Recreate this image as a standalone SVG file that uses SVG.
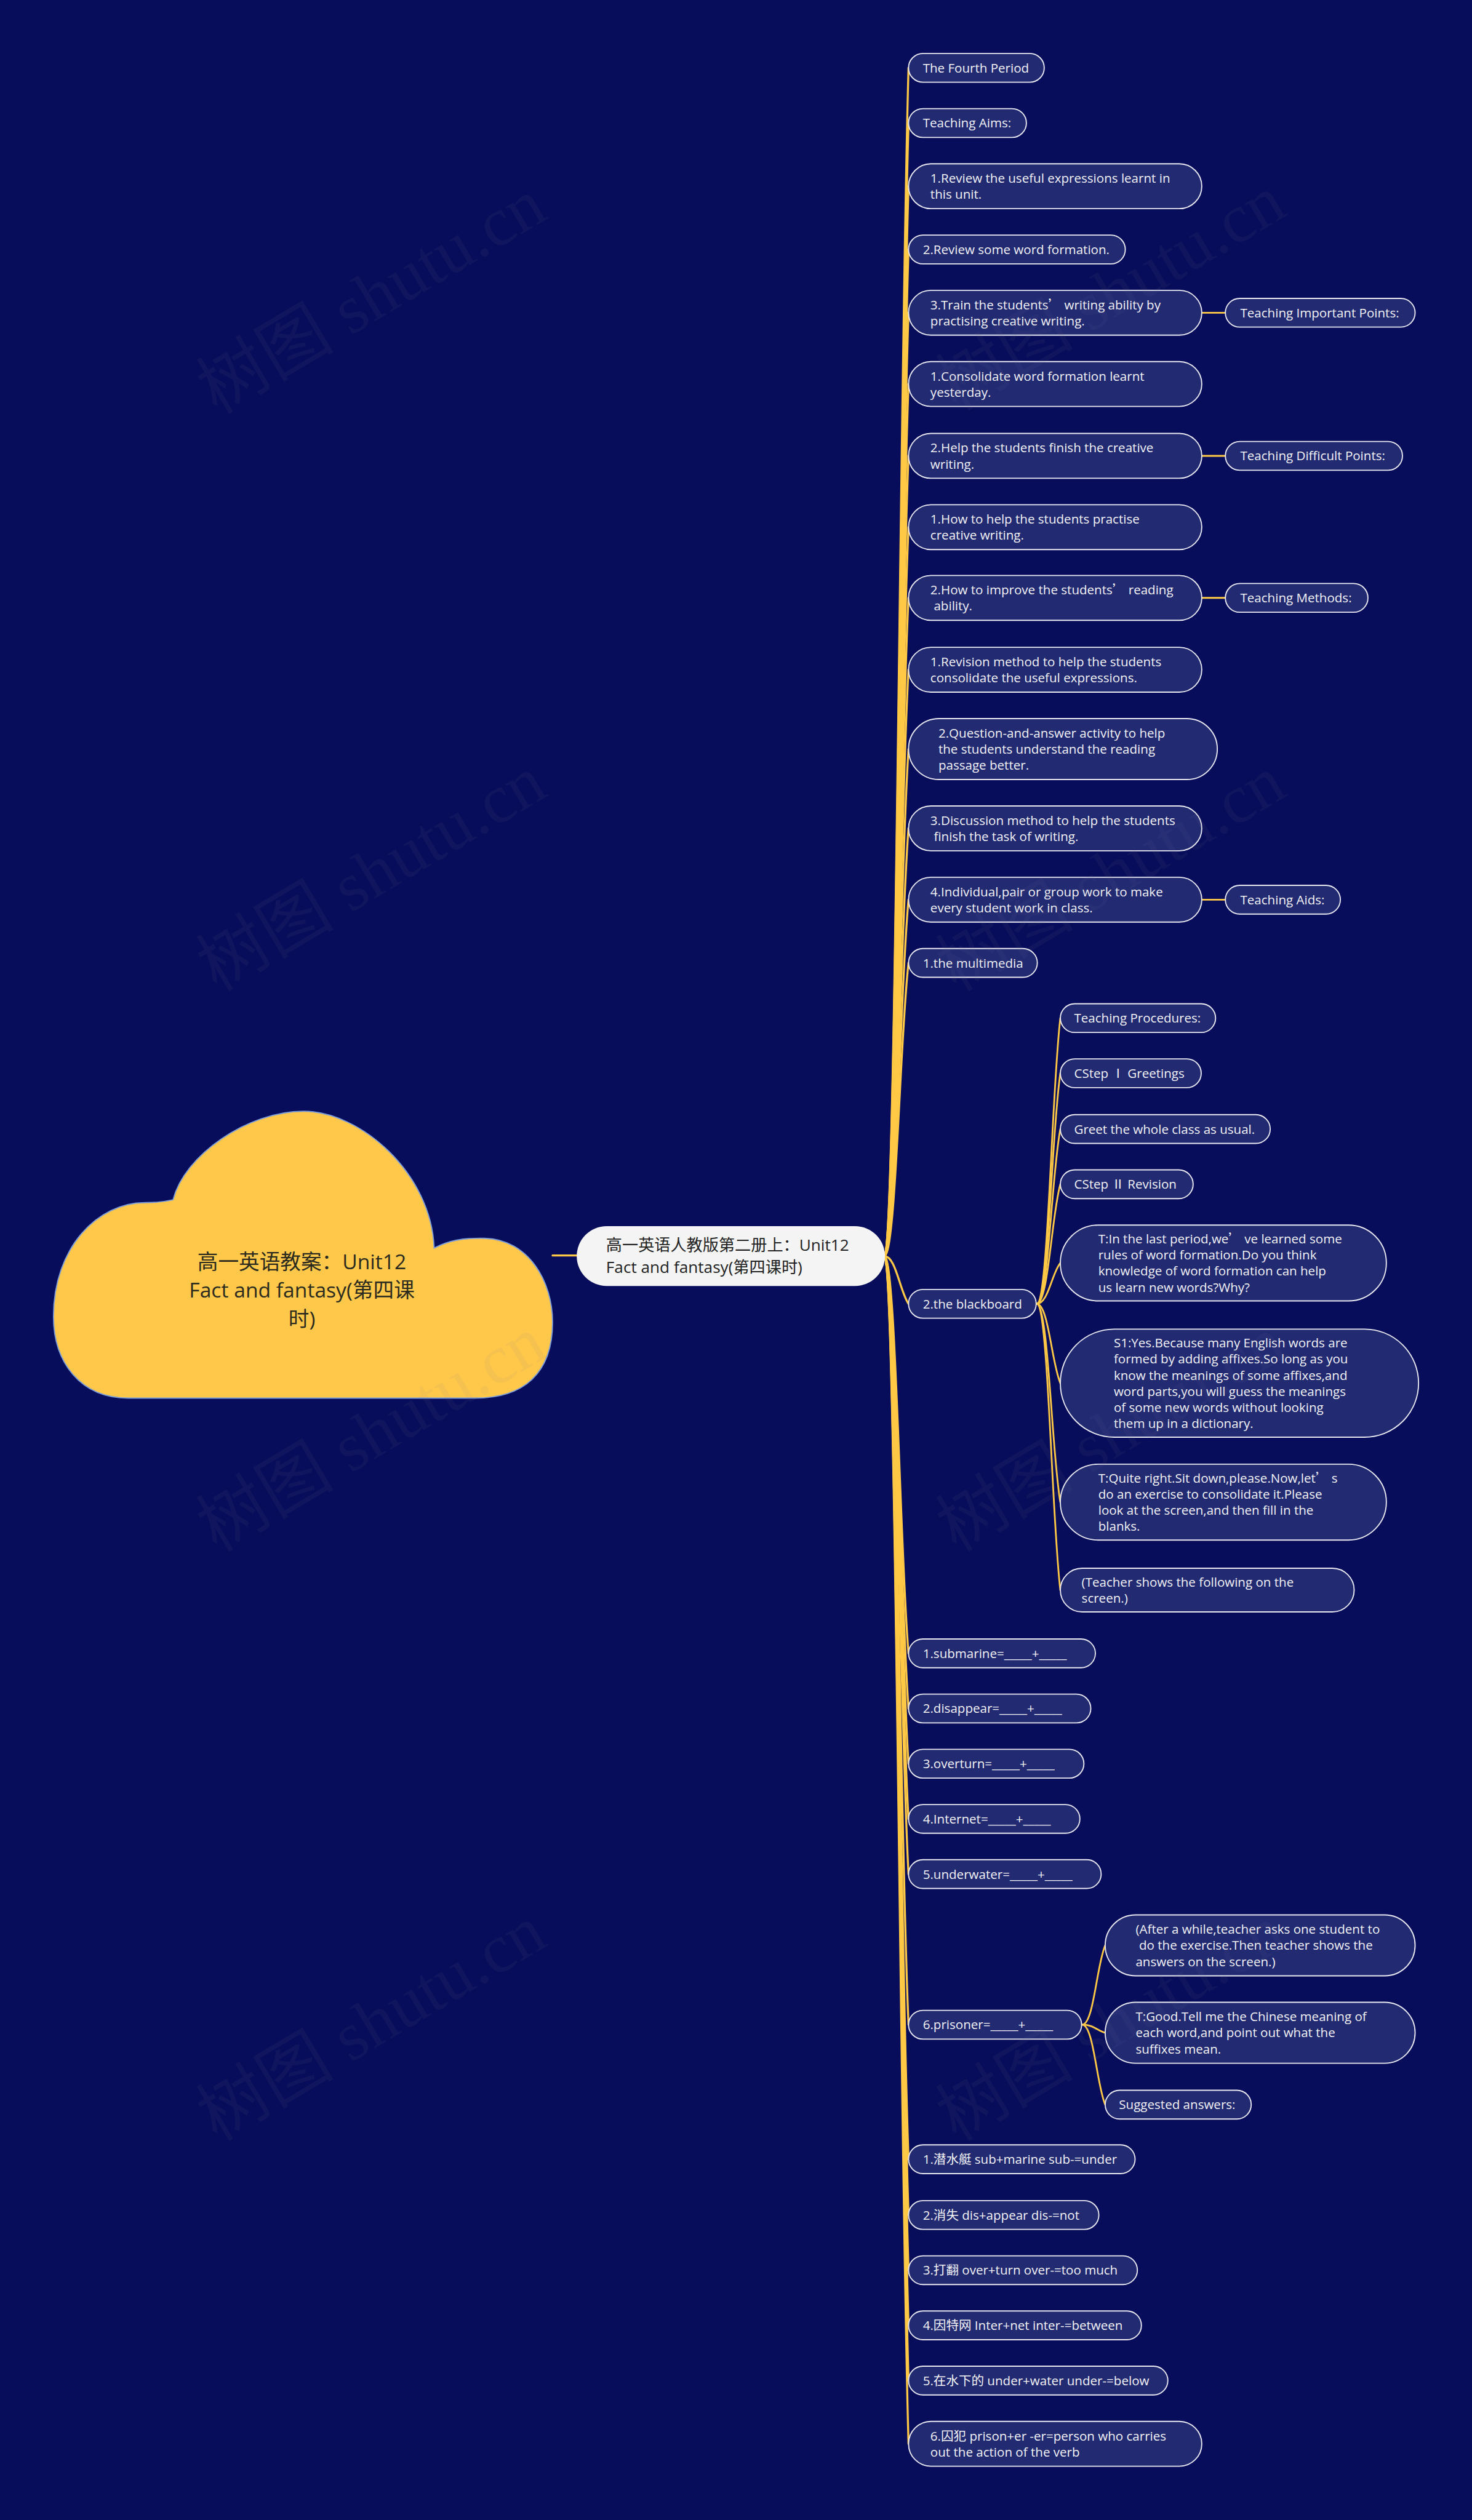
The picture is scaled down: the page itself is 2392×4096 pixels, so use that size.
<svg xmlns="http://www.w3.org/2000/svg" width="2392" height="4096" viewBox="0 0 2392 4096">
<style>
.n rect{fill:#222a72;stroke:#e8e8f0;stroke-width:2}
.n text,.t{font-family:"Open Sans","Noto Sans CJK SC",sans-serif;font-size:22px;fill:#f2f2f6}
.c path{fill:none;stroke:#ffc845;stroke-width:3.5;stroke-linecap:round}
.c .s{stroke-width:3}
.wm{font-family:"Liberation Serif","Noto Sans CJK SC",serif;font-size:120px;fill:#7a7a90;opacity:0.07}
.q{font-family:"Noto Sans CJK SC",sans-serif}
</style>
<rect x="0" y="0" width="2392" height="4096" fill="#080d5b"/>
<g transform="scale(0.9344)">
<g id="connectors" class="c">
<path d="M961,2184 L1003,2184"/>
<path d="M1538,2185 C1558,2185 1565,635 1580,118"/>
<path d="M1538,2185 C1558,2185 1565,707 1580,214"/>
<path d="M1538,2185 C1558,2185 1565,789 1580,324"/>
<path d="M1538,2185 C1558,2185 1565,872 1580,434"/>
<path d="M1538,2185 C1558,2185 1565,954 1580,544"/>
<path d="M1538,2185 C1558,2185 1565,1047 1580,668"/>
<path d="M1538,2185 C1558,2185 1565,1141 1580,793"/>
<path d="M1538,2185 C1558,2185 1565,1234 1580,917"/>
<path d="M1538,2185 C1558,2185 1565,1326 1580,1040"/>
<path d="M1538,2185 C1558,2185 1565,1420 1580,1165"/>
<path d="M1538,2185 C1558,2185 1565,1524 1580,1303"/>
<path d="M1538,2185 C1558,2185 1565,1627 1580,1441"/>
<path d="M1538,2185 C1558,2185 1565,1720 1580,1565"/>
<path d="M1538,2185 C1558,2185 1565,1802 1580,1675"/>
<path d="M1538,2185 C1558,2185 1565,2247 1580,2268"/>
<path d="M1538,2185 C1558,2185 1565,2703 1580,2876"/>
<path d="M1538,2185 C1558,2185 1565,2775 1580,2972"/>
<path d="M1538,2185 C1558,2185 1565,2847 1580,3068"/>
<path d="M1538,2185 C1558,2185 1565,2919 1580,3164"/>
<path d="M1538,2185 C1558,2185 1565,2991 1580,3260"/>
<path d="M1538,2185 C1558,2185 1565,3188 1580,3522"/>
<path d="M1538,2185 C1558,2185 1565,3363 1580,3756"/>
<path d="M1538,2185 C1558,2185 1565,3436 1580,3853"/>
<path d="M1538,2185 C1558,2185 1565,3508 1580,3949"/>
<path d="M1538,2185 C1558,2185 1565,3580 1580,4045"/>
<path d="M1538,2185 C1558,2185 1565,3652 1580,4141"/>
<path d="M1538,2185 C1558,2185 1565,3734 1580,4251"/>
<path class="s" d="M2090,544 L2131,544"/>
<path class="s" d="M2090,793 L2131,793"/>
<path class="s" d="M2090,1040 L2131,1040"/>
<path class="s" d="M2090,1565 L2131,1565"/>
<path class="s" d="M1803,2268 C1823,2268 1829,1895 1844,1771"/>
<path class="s" d="M1803,2268 C1823,2268 1829,1967 1844,1867"/>
<path class="s" d="M1803,2268 C1823,2268 1829,2040 1844,1964"/>
<path class="s" d="M1803,2268 C1823,2268 1829,2112 1844,2060"/>
<path class="s" d="M1803,2268 C1823,2268 1829,2215 1844,2197"/>
<path class="s" d="M1803,2268 C1823,2268 1829,2371 1844,2406"/>
<path class="s" d="M1803,2268 C1823,2268 1829,2527 1844,2613"/>
<path class="s" d="M1803,2268 C1823,2268 1829,2641 1844,2766"/>
<path class="s" d="M1882,3522 C1902,3522 1907,3419 1922,3384"/>
<path class="s" d="M1882,3522 C1902,3522 1907,3532 1922,3536"/>
<path class="s" d="M1882,3522 C1902,3522 1907,3626 1922,3661"/>
</g>
<g id="root">
<path d="M301,2087 C320,2010 430,1933 528,1933 C626,1933 750,2040 755,2171 C780,2158 805,2153 843,2154 C920,2156 961,2230 961,2300 C961,2390 910,2432 826,2432 L223,2432 C140,2432 93,2370 93,2290 C93,2170 170,2092 252,2092 C272,2092 288,2090 301,2087 Z" fill="#ffc84a" stroke="#7a9ad8" stroke-width="2"/>
<text font-family="Open Sans,Noto Sans CJK SC,sans-serif" font-size="36" fill="#2b2a1e" text-anchor="middle"><tspan x="525" y="2208">高一英语教案：Unit12</tspan><tspan x="525" y="2257">Fact and fantasy(第四课</tspan><tspan x="525" y="2307">时)</tspan></text>
</g>
<g id="main">
<rect x="1003" y="2133" width="536" height="104" rx="52" fill="#f4f4f4"/>
<text font-family="Open Sans,Noto Sans CJK SC,sans-serif" font-size="28" fill="#222"><tspan x="1054" y="2176">高一英语人教版第二册上：Unit12</tspan><tspan x="1054" y="2214">Fact and fantasy(第四课时)</tspan></text>
</g>
<g id="n1" class="n"><rect x="1580" y="93" width="236" height="50" rx="25"/><text x="1605" y="126">The Fourth Period</text></g>
<g id="n2" class="n"><rect x="1580" y="189" width="205" height="50" rx="25"/><text x="1605" y="222">Teaching Aims:</text></g>
<g id="n3" class="n"><rect x="1580" y="285" width="510" height="78" rx="39"/><text><tspan x="1618" y="318">1.Review the useful expressions learnt in</tspan><tspan x="1618" y="346">this unit.</tspan></text></g>
<g id="n4" class="n"><rect x="1580" y="409" width="377" height="50" rx="25"/><text x="1605" y="442">2.Review some word formation.</text></g>
<g id="n5" class="n"><rect x="1580" y="505" width="510" height="78" rx="39"/><text><tspan x="1618" y="538">3.Train the students<tspan class="q">’</tspan> writing ability by</tspan><tspan x="1618" y="566">practising creative writing.</tspan></text></g>
<g id="n5a" class="n"><rect x="2131" y="519" width="330" height="50" rx="25"/><text x="2157" y="552">Teaching Important Points:</text></g>
<g id="n6" class="n"><rect x="1580" y="629" width="510" height="78" rx="39"/><text><tspan x="1618" y="662">1.Consolidate word formation learnt</tspan><tspan x="1618" y="690">yesterday.</tspan></text></g>
<g id="n7" class="n"><rect x="1580" y="754" width="510" height="78" rx="39"/><text><tspan x="1618" y="787">2.Help the students finish the creative</tspan><tspan x="1618" y="815">writing.</tspan></text></g>
<g id="n7a" class="n"><rect x="2131" y="768" width="308" height="50" rx="25"/><text x="2157" y="801">Teaching Difficult Points:</text></g>
<g id="n8" class="n"><rect x="1580" y="878" width="510" height="78" rx="39"/><text><tspan x="1618" y="911">1.How to help the students practise</tspan><tspan x="1618" y="939">creative writing.</tspan></text></g>
<g id="n9" class="n"><rect x="1580" y="1001" width="510" height="78" rx="39"/><text><tspan x="1618" y="1034">2.How to improve the students<tspan class="q">’</tspan> reading</tspan><tspan x="1624" y="1062">ability.</tspan></text></g>
<g id="n9a" class="n"><rect x="2131" y="1015" width="248" height="50" rx="25"/><text x="2157" y="1048">Teaching Methods:</text></g>
<g id="n10" class="n"><rect x="1580" y="1126" width="510" height="78" rx="39"/><text><tspan x="1618" y="1159">1.Revision method to help the students</tspan><tspan x="1618" y="1187">consolidate the useful expressions.</tspan></text></g>
<g id="n11" class="n"><rect x="1580" y="1250" width="537" height="106" rx="53"/><text><tspan x="1632" y="1283">2.Question-and-answer activity to help</tspan><tspan x="1632" y="1311">the students understand the reading</tspan><tspan x="1632" y="1339">passage better.</tspan></text></g>
<g id="n12" class="n"><rect x="1580" y="1402" width="510" height="78" rx="39"/><text><tspan x="1618" y="1435">3.Discussion method to help the students</tspan><tspan x="1624" y="1463">finish the task of writing.</tspan></text></g>
<g id="n13" class="n"><rect x="1580" y="1526" width="510" height="78" rx="39"/><text><tspan x="1618" y="1559">4.Individual,pair or group work to make</tspan><tspan x="1618" y="1587">every student work in class.</tspan></text></g>
<g id="n13a" class="n"><rect x="2131" y="1540" width="200" height="50" rx="25"/><text x="2157" y="1573">Teaching Aids:</text></g>
<g id="n14" class="n"><rect x="1580" y="1650" width="224" height="50" rx="25"/><text x="1605" y="1683">1.the multimedia</text></g>
<g id="n15" class="n"><rect x="1580" y="2243" width="222" height="50" rx="25"/><text x="1605" y="2276">2.the blackboard</text></g>
<g id="n15a" class="n"><rect x="1844" y="1746" width="270" height="50" rx="25"/><text x="1868" y="1779">Teaching Procedures:</text></g>
<g id="n15b" class="n"><rect x="1844" y="1842" width="245" height="50" rx="25"/><text x="1868" y="1875">CStep <tspan class="q">Ⅰ</tspan> Greetings</text></g>
<g id="n15c" class="n"><rect x="1844" y="1939" width="365" height="50" rx="25"/><text x="1868" y="1972">Greet the whole class as usual.</text></g>
<g id="n15d" class="n"><rect x="1844" y="2035" width="231" height="50" rx="25"/><text x="1868" y="2068">CStep <tspan class="q">Ⅱ</tspan> Revision</text></g>
<g id="n15e" class="n"><rect x="1844" y="2131" width="567" height="132" rx="66"/><text><tspan x="1910" y="2163">T:In the last period,we<tspan class="q">’</tspan> ve learned some</tspan><tspan x="1910" y="2191">rules of word formation.Do you think</tspan><tspan x="1910" y="2219">knowledge of word formation can help</tspan><tspan x="1910" y="2247">us learn new words?Why?</tspan></text></g>
<g id="n15f" class="n"><rect x="1844" y="2312" width="623" height="188" rx="94"/><text><tspan x="1937" y="2344">S1:Yes.Because many English words are</tspan><tspan x="1937" y="2372">formed by adding affixes.So long as you</tspan><tspan x="1937" y="2400">know the meanings of some affixes,and</tspan><tspan x="1937" y="2428">word parts,you will guess the meanings</tspan><tspan x="1937" y="2456">of some new words without looking</tspan><tspan x="1937" y="2484">them up in a dictionary.</tspan></text></g>
<g id="n15g" class="n"><rect x="1844" y="2547" width="567" height="132" rx="66"/><text><tspan x="1910" y="2579">T:Quite right.Sit down,please.Now,let<tspan class="q">’</tspan> s</tspan><tspan x="1910" y="2607">do an exercise to consolidate it.Please</tspan><tspan x="1910" y="2635">look at the screen,and then fill in the</tspan><tspan x="1910" y="2663">blanks.</tspan></text></g>
<g id="n15h" class="n"><rect x="1844" y="2728" width="511" height="76" rx="38"/><text><tspan x="1881" y="2760">(Teacher shows the following on the</tspan><tspan x="1881" y="2788">screen.)</tspan></text></g>
<g id="n16" class="n"><rect x="1580" y="2851" width="325" height="50" rx="25"/><text x="1605" y="2884">1.submarine=_____+_____</text></g>
<g id="n17" class="n"><rect x="1580" y="2947" width="317" height="50" rx="25"/><text x="1605" y="2980">2.disappear=_____+_____</text></g>
<g id="n18" class="n"><rect x="1580" y="3043" width="305" height="50" rx="25"/><text x="1605" y="3076">3.overturn=_____+_____</text></g>
<g id="n19" class="n"><rect x="1580" y="3139" width="298" height="50" rx="25"/><text x="1605" y="3172">4.Internet=_____+_____</text></g>
<g id="n20" class="n"><rect x="1580" y="3235" width="335" height="50" rx="25"/><text x="1605" y="3268">5.underwater=_____+_____</text></g>
<g id="n21" class="n"><rect x="1580" y="3497" width="301" height="50" rx="25"/><text x="1605" y="3530">6.prisoner=_____+_____</text></g>
<g id="n21a" class="n"><rect x="1922" y="3331" width="539" height="106" rx="53"/><text><tspan x="1975" y="3364">(After a while,teacher asks one student to</tspan><tspan x="1981" y="3392">do the exercise.Then teacher shows the</tspan><tspan x="1975" y="3420">answers on the screen.)</tspan></text></g>
<g id="n21b" class="n"><rect x="1922" y="3483" width="539" height="106" rx="53"/><text><tspan x="1975" y="3516">T:Good.Tell me the Chinese meaning of</tspan><tspan x="1975" y="3544">each word,and point out what the</tspan><tspan x="1975" y="3572">suffixes mean.</tspan></text></g>
<g id="n21c" class="n"><rect x="1922" y="3636" width="254" height="50" rx="25"/><text x="1946" y="3669">Suggested answers:</text></g>
<g id="n22" class="n"><rect x="1580" y="3731" width="394" height="50" rx="25"/><text x="1605" y="3764">1.潜水艇 sub+marine sub-=under</text></g>
<g id="n23" class="n"><rect x="1580" y="3828" width="331" height="50" rx="25"/><text x="1605" y="3861">2.消失 dis+appear dis-=not</text></g>
<g id="n24" class="n"><rect x="1580" y="3924" width="398" height="50" rx="25"/><text x="1605" y="3957">3.打翻 over+turn over-=too much</text></g>
<g id="n25" class="n"><rect x="1580" y="4020" width="405" height="50" rx="25"/><text x="1605" y="4053">4.因特网 Inter+net inter-=between</text></g>
<g id="n26" class="n"><rect x="1580" y="4116" width="451" height="50" rx="25"/><text x="1605" y="4149">5.在水下的 under+water under-=below</text></g>
<g id="n27" class="n"><rect x="1580" y="4212" width="510" height="78" rx="39"/><text><tspan x="1618" y="4245">6.囚犯 prison+er -er=person who carries</tspan><tspan x="1618" y="4273">out the action of the verb</tspan></text></g>
<g id="watermark">
<text class="wm" text-anchor="middle" transform="rotate(-30.7 646 516)" x="646" y="556">树图 shutu.cn</text>
<text class="wm" text-anchor="middle" transform="rotate(-30.7 1932 510)" x="1932" y="550">树图 shutu.cn</text>
<text class="wm" text-anchor="middle" transform="rotate(-30.7 646 1520)" x="646" y="1560">树图 shutu.cn</text>
<text class="wm" text-anchor="middle" transform="rotate(-30.7 1932 1520)" x="1932" y="1560">树图 shutu.cn</text>
<text class="wm" text-anchor="middle" transform="rotate(-30.7 646 2495)" x="646" y="2535">树图 shutu.cn</text>
<text class="wm" text-anchor="middle" transform="rotate(-30.7 1932 2495)" x="1932" y="2535">树图 shutu.cn</text>
<text class="wm" text-anchor="middle" transform="rotate(-30.7 646 3520)" x="646" y="3560">树图 shutu.cn</text>
<text class="wm" text-anchor="middle" transform="rotate(-30.7 1932 3520)" x="1932" y="3560">树图 shutu.cn</text>
</g>
</g>
</svg>
